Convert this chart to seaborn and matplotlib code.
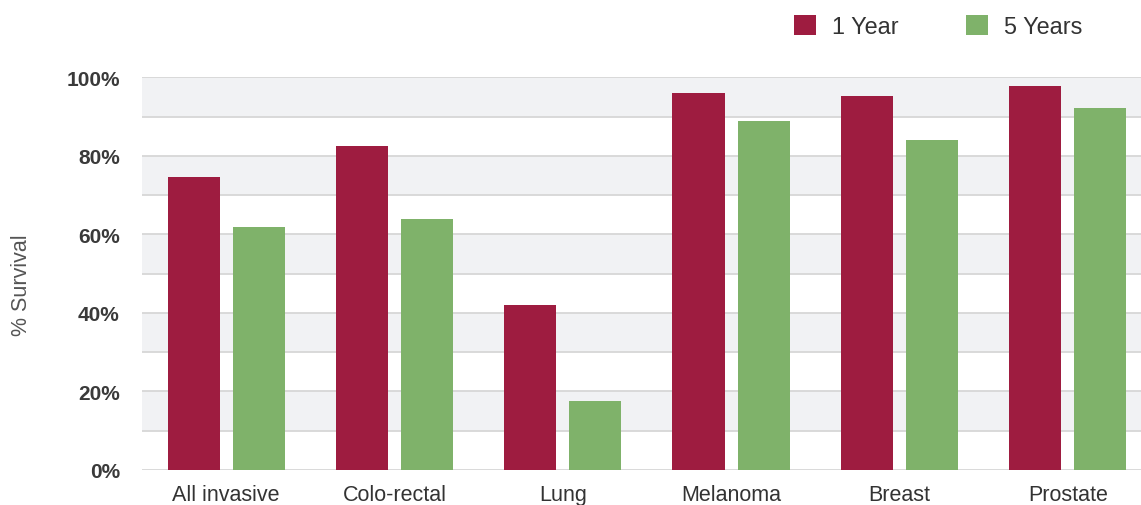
import pandas as pd
import seaborn as sns
import matplotlib.pyplot as plt
from matplotlib.patches import Patch

OUTPUT_FILE = "out.png"

CANCERS = ["All invasive", "Colo-rectal", "Lung", "Melanoma", "Breast", "Prostate"]
ONE_YEAR = [74.6, 82.5, 42.1, 95.9, 95.2, 97.7]
FIVE_YEARS = [61.9, 63.8, 17.6, 88.8, 83.9, 92.1]
SERIES = ["1 Year", "5 Years"]
Y_TICKS = [0, 20, 40, 60, 80, 100]

COLORS = {"1 Year": "#9e1c40", "5 Years": "#7fb26a"}
TEXT = "#333333"


def build_data():
    return pd.DataFrame({
        "Cancer": CANCERS * 2,
        "Period": [SERIES[0]] * len(CANCERS) + [SERIES[1]] * len(CANCERS),
        "Survival": ONE_YEAR + FIVE_YEARS,
    })


def draw_chart(ax: plt.Axes, df: pd.DataFrame):
    # alternating light bands behind the bars
    for lo in range(10, 100, 20):
        ax.axhspan(lo, lo + 10, color="#f1f2f4", zorder=0, lw=0)
    for y in range(0, 101, 10):
        ax.axhline(y, color="#d9d9d9", lw=1.4, zorder=1)

    sns.barplot(data=df, x="Cancer", y="Survival", hue="Period",
                palette=COLORS, width=0.775, gap=0.2, saturation=1,
                linewidth=0, legend=False, ax=ax, zorder=2)

    ax.set_ylim(0, 100)
    ax.set_xlim(-0.5, len(CANCERS) - 0.5)
    ax.set_yticks(Y_TICKS)
    ax.set_yticklabels([f"{v}%" for v in Y_TICKS], fontweight="bold",
                       fontsize=15, color="#3a3a3a")
    ax.set_xticklabels(CANCERS, fontsize=15.5, color=TEXT)
    ax.tick_params(axis="both", length=0)
    ax.tick_params(axis="y", pad=16)
    ax.tick_params(axis="x", pad=10)

    ax.set_xlabel("")
    ax.set_ylabel("")
    for spine in ax.spines.values():
        spine.set_visible(False)


def main():
    sns.set_style("white")
    plt.rcParams["font.family"] = ["Liberation Sans", "DejaVu Sans"]
    df = build_data()

    fig = plt.figure(figsize=(11.41, 5.06), dpi=100)
    ax = fig.add_axes([0.1245, 0.0692, 0.885, 0.7762])
    draw_chart(ax, df)

    fig.text(22 / 1141, 1 - 285 / 506, "% Survival", rotation=90,
             ha="center", va="center", fontsize=15.5, color="#555555")

    handles = [Patch(facecolor=COLORS[s], edgecolor="none", label=s) for s in SERIES]
    leg = fig.legend(handles=handles, loc="upper left",
                     bbox_to_anchor=(794 / 1141, 1 - 16 / 506), ncol=2,
                     frameon=False, fontsize=16.8, handlelength=0.95,
                     handleheight=0.95, handletextpad=0.7, columnspacing=2.85,
                     borderpad=0, borderaxespad=0)
    for t in leg.get_texts():
        t.set_color(TEXT)

    fig.savefig(OUTPUT_FILE, dpi=100)


if __name__ == "__main__":
    main()
